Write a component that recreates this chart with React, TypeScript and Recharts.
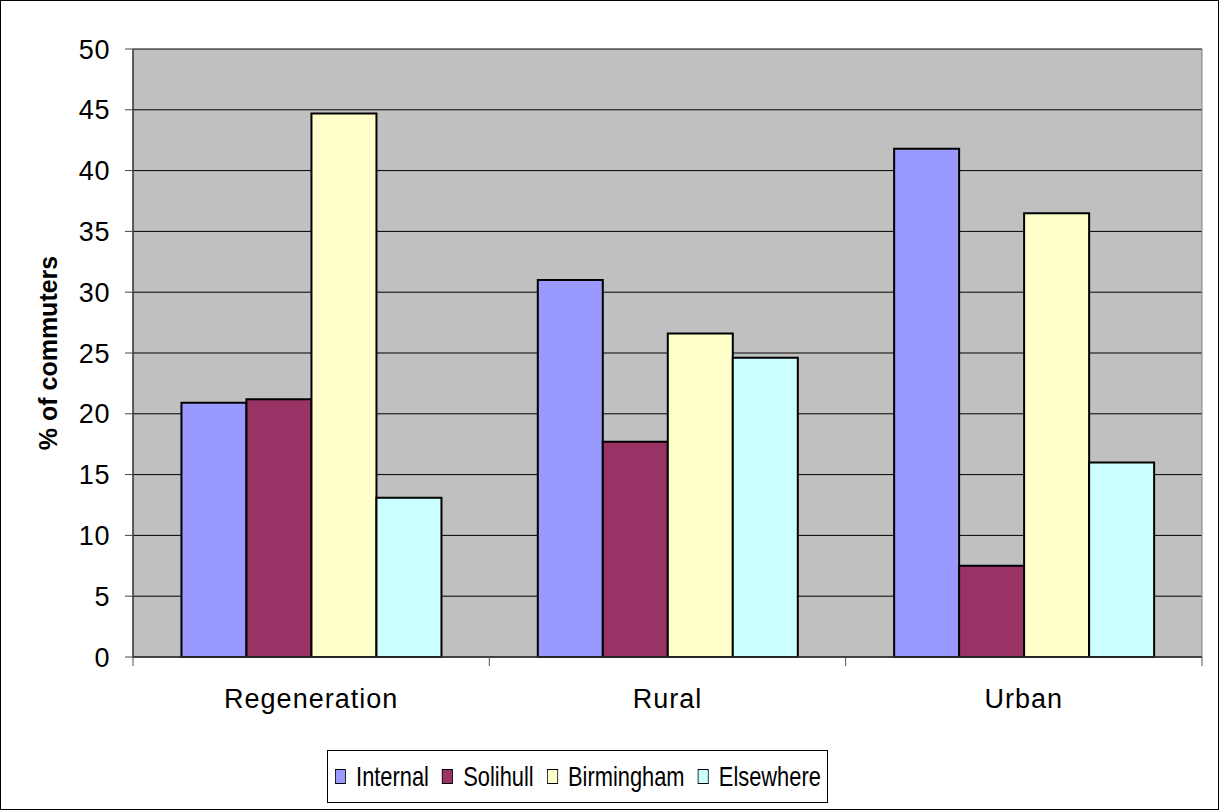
import React from 'react';
import {
  BarChart,
  Bar,
  XAxis,
  YAxis,
  CartesianGrid,
  Legend,
} from 'recharts';

const AREAS = ['Regeneration', 'Rural', 'Urban'];
const INTERNAL = [20.9, 31.0, 41.8];
const SOLIHULL = [21.2, 17.7, 7.5];
const BIRMINGHAM = [44.7, 26.6, 36.5];
const ELSEWHERE = [13.1, 24.6, 16.0];
const Y_TICKS = [0, 5, 10, 15, 20, 25, 30, 35, 40, 45, 50];

const SERIES = [
  { key: 'internal', name: 'Internal', color: '#9999FF' },
  { key: 'solihull', name: 'Solihull', color: '#993366' },
  { key: 'birmingham', name: 'Birmingham', color: '#FFFFCC' },
  { key: 'elsewhere', name: 'Elsewhere', color: '#CCFFFF' },
];

const data = AREAS.map((area, i) => ({
  area,
  internal: INTERNAL[i],
  solihull: SOLIHULL[i],
  birmingham: BIRMINGHAM[i],
  elsewhere: ELSEWHERE[i],
}));

const FONT = 'Arial, "Liberation Sans", sans-serif';

// category label under each group, with tick marks on the group boundaries
const AreaTick = (props: any) => {
  const { x, y, payload, index, visibleTicksCount } = props;
  const half = payload.offset || 0;
  const isLast = index === visibleTicksCount - 1;
  return (
    <g>
      <line x1={x - half} x2={x - half} y1={y} y2={y + 9} stroke="#555" strokeWidth={1} />
      {isLast && (
        <line x1={x + half} x2={x + half} y1={y} y2={y + 9} stroke="#555" strokeWidth={1} />
      )}
      <text
        x={x}
        y={y + 51}
        textAnchor="middle"
        fontFamily={FONT}
        fontSize={27}
        letterSpacing={1}
        fill="#000"
      >
        {payload.value}
      </text>
    </g>
  );
};

// legend keeps the series order (Recharts would otherwise sort it by name)
const LegendBox = () => (
  <div
    style={{
      boxSizing: 'border-box',
      width: 501,
      height: 53,
      border: '1px solid #000',
      background: '#fff',
      overflow: 'hidden',
    }}
  >
    <div
      style={{
        display: 'flex',
        alignItems: 'center',
        height: '100%',
        paddingLeft: 9,
        transform: 'scaleX(0.78)',
        transformOrigin: 'left center',
        whiteSpace: 'nowrap',
        fontFamily: FONT,
        fontSize: 28,
        color: '#000',
      }}
    >
      {SERIES.map((s, i) => (
        <div key={s.key} style={{ display: 'flex', alignItems: 'center', marginLeft: i === 0 ? 0 : 17 }}>
          <span
            style={{
              display: 'inline-block',
              boxSizing: 'border-box',
              width: 14,
              height: 15,
              background: s.color,
              border: '1.5px solid #000',
              marginRight: 13,
            }}
          />
          <span>{s.name}</span>
        </div>
      ))}
    </div>
  </div>
);

export default function App() {
  return (
    <div
      style={{
        position: 'absolute',
        left: 0,
        top: 0,
        width: 1219,
        height: 810,
        background: '#fff',
        outline: '1px solid #000',
        outlineOffset: -1,
      }}
    >
      <BarChart
        width={1219}
        height={810}
        data={data}
        margin={{ top: 49, right: 17, bottom: 93, left: 53 }}
        barCategoryGap="13.6%"
        barGap={0}
      >
        <CartesianGrid vertical={false} stroke="#000" strokeWidth={1} fill="#C0C0C0" fillOpacity={1} />
        <CartesianGrid
          horizontal={false}
          stroke="#808080"
          strokeWidth={1}
          verticalCoordinatesGenerator={({ offset }: any) => [offset.left + offset.width]}
        />
        <XAxis
          dataKey="area"
          height={60}
          tickLine={false}
          tickSize={0}
          tickMargin={0}
          axisLine={{ stroke: '#333', strokeWidth: 1.5 }}
          tick={<AreaTick />}
          interval={0}
        />
        <YAxis
          width={80}
          domain={[0, 50]}
          ticks={Y_TICKS}
          interval={0}
          tickSize={8}
          tickMargin={15}
          tickLine={{ stroke: '#444' }}
          axisLine={{ stroke: '#333', strokeWidth: 1.5 }}
          tick={{ fill: '#000', fontFamily: FONT, fontSize: 27, letterSpacing: 0.6 }}
          label={{
            content: ({ viewBox }: any) => (
              <text
                x={viewBox.x - 5}
                y={viewBox.y + viewBox.height / 2}
                transform={`rotate(-90, ${viewBox.x - 5}, ${viewBox.y + viewBox.height / 2})`}
                textAnchor="middle"
                dominantBaseline="central"
                fontFamily={FONT}
                fontWeight="bold"
                fontSize={25}
                fill="#000"
              >
                % of commuters
              </text>
            ),
          }}
        />
        <Legend
          layout="horizontal"
          verticalAlign="middle"
          align="center"
          content={<LegendBox />}
          wrapperStyle={{ left: 327, top: 750, width: 501, height: 53 }}
        />
        {SERIES.map((s) => (
          <Bar
            key={s.key}
            dataKey={s.key}
            name={s.name}
            fill={s.color}
            stroke="#000"
            strokeWidth={2}
            isAnimationActive={false}
          />
        ))}
      </BarChart>
    </div>
  );
}
